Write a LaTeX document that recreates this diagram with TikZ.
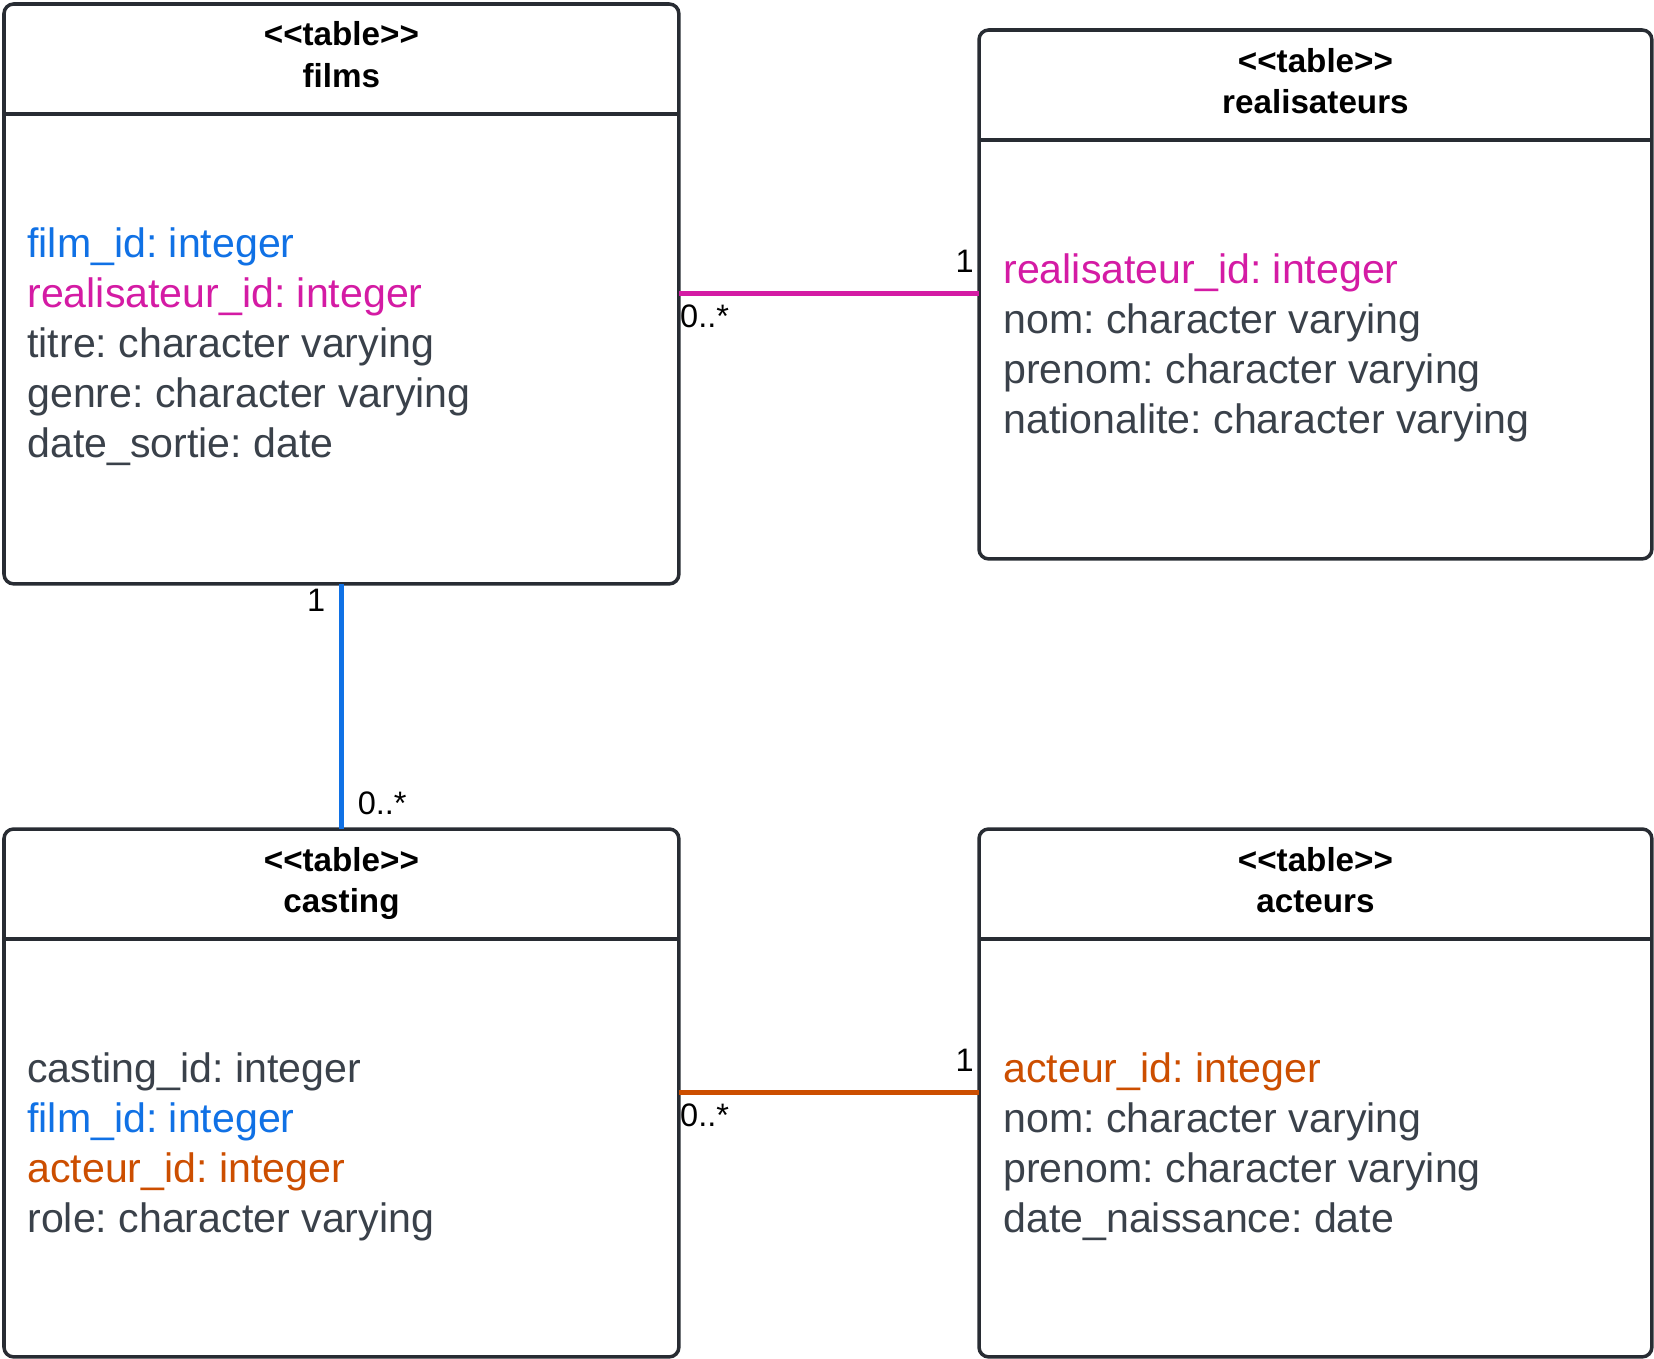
\documentclass[tikz,border=0pt]{standalone}
\usepackage{fontspec}
\setmainfont{Liberation Sans}
\usetikzlibrary{calc}
\definecolor{boxline}{HTML}{282C33}
\definecolor{attrgray}{HTML}{3A414A}
\definecolor{fkblue}{HTML}{1071E5}
\definecolor{fkpink}{HTML}{D41BA4}
\definecolor{fkorange}{HTML}{CC4E00}
\frenchspacing

\begin{document}
\begin{tikzpicture}[
  x=0.02cm, y=-0.02cm,
  tablebox/.style={draw=boxline, line width=2pt, rounded corners=5.5pt, inner sep=0pt, outer sep=0pt, anchor=north west},
  tablehead/.style={inner sep=0pt, anchor=base, font=\fontsize{18.9pt}{22pt}\selectfont\bfseries},
  attr/.style={inner sep=0pt, anchor=base west, font=\fontsize{23.4pt}{28pt}\selectfont},
  card/.style={inner sep=0pt, font=\fontsize{18.5pt}{22pt}\selectfont},
  link/.style={line width=2.8pt} % relation lines
]
\useasboundingbox (0,0) rectangle (1654,1359);

% Tables
\node[tablebox, minimum width=13.5cm, minimum height=11.6cm] (films) at (4,4) {};
\node[tablebox, minimum width=13.46cm, minimum height=10.58cm] (realis) at (979,30) {};
\node[tablebox, minimum width=13.5cm, minimum height=10.56cm] (casting) at (4,829) {};
\node[tablebox, minimum width=13.46cm, minimum height=10.56cm] (acteurs) at (979,829) {};

% Headers
\foreach \t/\name in {films/films, realis/realisateurs, casting/casting, acteurs/acteurs} {
  \draw[draw=boxline, line width=2pt] ($(\t.north west)+(0,110)$) -- ($(\t.north east)+(0,110)$);
  \node[tablehead] (\t-st) at ($(\t.north)+(0,42)$) {<\kern0pt<table>\kern0pt>};
  \node[tablehead] (\t-nm) at ($(\t.north)+(0,83)$) {\name};
}

% Columns
\foreach \col/\txt [count=\i] in {fkblue/film\_id: integer, fkpink/realisateur\_id: integer,
    attrgray/titre: character varying, attrgray/genre: character varying, attrgray/date\_sortie: date}
  \node[attr, text=\col] (films-\i) at ($(films.north west)+(23,203+50*\i)$) {\txt};
\foreach \col/\txt [count=\i] in {fkpink/realisateur\_id: integer, attrgray/nom: character varying,
    attrgray/prenom: character varying, attrgray/nationalite: character varying}
  \node[attr, text=\col] (realis-\i) at ($(realis.north west)+(24,203+50*\i)$) {\txt};
\foreach \col/\txt [count=\i] in {attrgray/casting\_id: integer, fkblue/film\_id: integer,
    fkorange/acteur\_id: integer, attrgray/role: character varying}
  \node[attr, text=\col] (casting-\i) at ($(casting.north west)+(23,203+50*\i)$) {\txt};
\foreach \col/\txt [count=\i] in {fkorange/acteur\_id: integer, attrgray/nom: character varying,
    attrgray/prenom: character varying, attrgray/date\_naissance: date}
  \node[attr, text=\col] (acteurs-\i) at ($(acteurs.north west)+(24,203+50*\i)$) {\txt};

% Relations
\draw[link, fkpink] (films.east) -- (films.east -| realis.west);
\draw[link, fkblue] (films.south) -- (casting.north);
\draw[link, fkorange] (casting.east) -- (casting.east -| acteurs.west);

% Cardinalities
\node[card, anchor=base east] (real-one) at ($(films.east -| realis.west)+(-5,-21)$) {1};
\node[card, anchor=base west] (films-many) at ($(films.east)+(1,34)$) {0..*};
\node[card, anchor=base east] (films-one) at ($(films.south)+(-16,28)$) {1};
\node[card, anchor=base west] (cast-many) at ($(casting.north)+(16,-15)$) {0..*};
\node[card, anchor=base east] (act-one) at ($(casting.east -| acteurs.west)+(-5,-21)$) {1};
\node[card, anchor=base west] (cast-many2) at ($(casting.east)+(1,34)$) {0..*};
\end{tikzpicture}
\end{document}
